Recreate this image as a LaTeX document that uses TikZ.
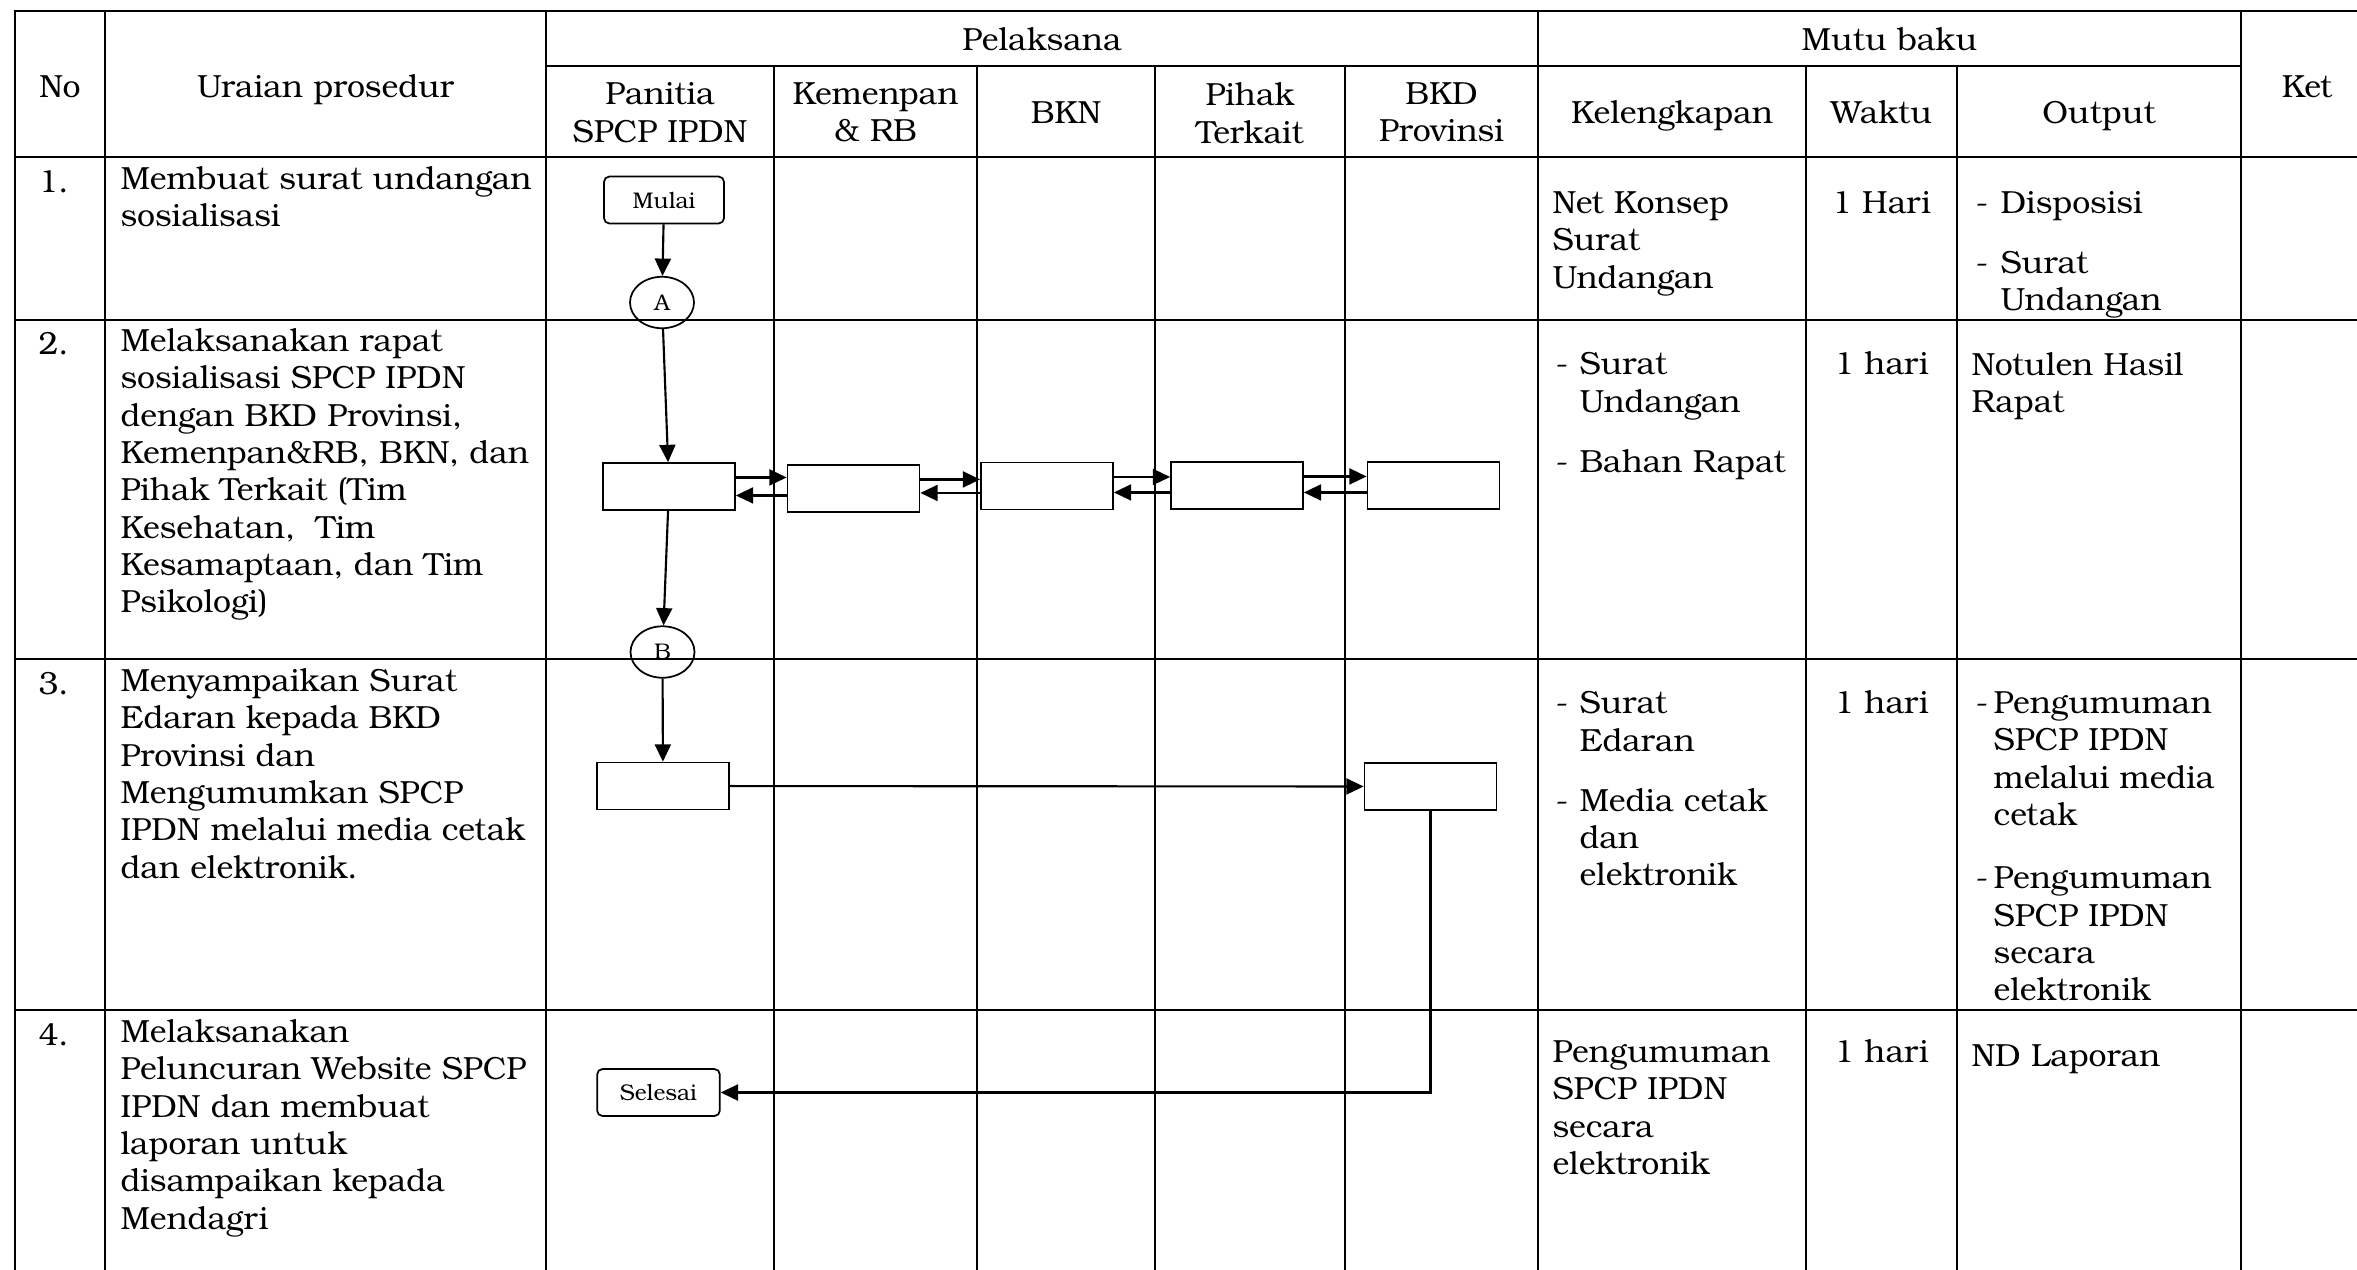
\documentclass[tikz,border=0pt]{standalone}
\usepackage{fontspec}
\setmainfont{TeX Gyre Bonum}
\usepackage{tikz}
\usetikzlibrary{positioning,calc,arrows.meta,shapes.geometric}
\newcommand{\cellfont}{\fontsize{12}{14}\selectfont}
\newcommand{\chartfont}{\fontsize{8.5}{10}\selectfont}
\newcommand{\itm}[1]{\makebox[#1][l]{-}}
\newcommand{\indt}[1]{\hspace*{#1}}

\begin{document}
\begin{tikzpicture}[x=0.375pt, y=-0.375pt,
  grid/.style={line width=0.8pt, line cap=rect},
  proc/.style={draw, line width=0.65pt, minimum width=49.5pt, minimum height=17.6pt, inner sep=0pt},
  term/.style={proc, rounded corners=2pt, minimum width=45pt, font=\chartfont},
  conn/.style={draw, ellipse, line width=0.65pt, minimum width=24pt, minimum height=19.3pt, inner sep=0pt, font=\chartfont},
  arr/.style={line width=0.8pt, -{Triangle[length=6.5pt,width=6pt]}},
  txt/.style={anchor=north west, align=left, inner sep=0pt, yshift=-1.5pt, font=\cellfont, execute at begin node=\strut},
  hd/.style={anchor=base, inner sep=0pt, font=\cellfont},
  hdtwo/.style={anchor=north, align=center, inner sep=0pt, yshift=-1.2pt, font=\cellfont, execute at begin node=\strut}]
  \useasboundingbox (0,0) rectangle (2357,1269);
  % table
  \foreach \y in {11,157,320,659,1010} \draw[grid] (15,\y) -- (2400,\y);
  \draw[grid] (546,66) -- (2241,66);
  \foreach \x in {15,105,546,1538,2241} \draw[grid] (\x,11) -- (\x,1300);
  \foreach \x in {774,977,1155,1345,1806,1957} \draw[grid] (\x,66) -- (\x,1300);
  % header
  \node[hd] (hno) at (60,97) {No};
  \node[hd] (hur) at (325.5,97) {Uraian prosedur};
  \node[hd] (hpel) at (1042,50) {Pelaksana};
  \node[hd] (hmutu) at (1889.5,50) {Mutu baku};
  \node[hd] (hket) at (2307,97) {Ket};
  \node[hdtwo] (hpan) at (660,79) {Panitia\\SPCP IPDN};
  \node[hdtwo] (hkem) at (875.5,79) {Kemenpan\\\& RB};
  \node[hd] (hbkn) at (1066,123) {BKN};
  \node[hdtwo] (hpih) at (1250,79) {Pihak\\Terkait};
  \node[hdtwo] (hbkd) at (1441.5,79) {BKD\\Provinsi};
  \node[hd] (hkel) at (1672,123) {Kelengkapan};
  \node[hd] (hwak) at (1881.5,123) {Waktu};
  \node[hd] (hout) at (2099,123) {Output};
  % no + uraian
  \node[txt] (no1) at (38,162) {1.};
  \node[txt] (no2) at (38,324) {2.};
  \node[txt] (no3) at (38,664) {3.};
  \node[txt] (no4) at (38,1015) {4.};
  \node[txt] (ur1) at (120,162) {Membuat surat undangan\\sosialisasi};
  \node[txt] (ur2) at (120,324) {Melaksanakan rapat\\sosialisasi SPCP IPDN\\dengan BKD Provinsi,\\Kemenpan\&RB, BKN, dan\\Pihak Terkait (Tim\\Kesehatan,\ \ Tim\\Kesamaptaan, dan Tim\\Psikologi)};
  \node[txt] (ur3) at (120,664) {Menyampaikan Surat\\Edaran kepada BKD\\Provinsi dan\\Mengumumkan SPCP\\IPDN melalui media cetak\\dan elektronik.};
  \node[txt] (ur4) at (120,1015) {Melaksanakan\\Peluncuran Website SPCP\\IPDN dan membuat\\laporan untuk\\disampaikan kepada\\Mendagri};
  % kelengkapan
  \node[txt] (kel1) at (1552,187) {Net Konsep\\Surat\\Undangan};
  \node[txt] (kel2) at (1555,348) {\itm{9pt}Surat\\\indt{9pt}Undangan\\[8.6pt]\itm{9pt}Bahan Rapat};
  \node[txt] (kel3) at (1555,687) {\itm{9pt}Surat\\\indt{9pt}Edaran\\[8.5pt]\itm{9pt}Media cetak\\\indt{9pt}dan\\\indt{9pt}elektronik};
  \node[txt] (kel4) at (1552,1036) {Pengumuman\\SPCP IPDN\\secara\\elektronik};
  % waktu
  \node[hd] (wak1) at (1881.5,213) {1 Hari};
  \node[hd] (wak2) at (1881.5,374) {1 hari};
  \node[hd] (wak3) at (1881.5,713) {1 hari};
  \node[hd] (wak4) at (1881.5,1062) {1 hari};
  % output
  \node[txt] (out1) at (1975,187) {\itm{9.4pt}Disposisi\\[8.5pt]\itm{9.4pt}Surat\\\indt{9.4pt}Undangan};
  \node[txt] (out2) at (1971,348) {Notulen Hasil\\Rapat};
  \node[txt] (out3) at (1975,687) {\itm{6.8pt}Pengumuman\\\indt{6.8pt}SPCP IPDN\\\indt{6.8pt}melalui media\\\indt{6.8pt}cetak\\[9.8pt]\itm{6.8pt}Pengumuman\\\indt{6.8pt}SPCP IPDN\\\indt{6.8pt}secara\\\indt{6.8pt}elektronik};
  \node[txt] (out4) at (1971,1036) {ND Laporan};
  % flow
  \node[term] (mulai) at (664,200) {Mulai};
  \node[conn] (a) at (662,302.5) {A};
  \node[proc] (b1) at (669,486.5) {};
  \node[proc] (b2) at (853.5,488.5) {};
  \node[proc] (b3) at (1047,486) {};
  \node[proc] (b4) at (1237,485.5) {};
  \node[proc] (b5) at (1433.5,485.5) {};
  \node[conn] (b) at (662.5,652) {B};
  \node[proc] (b6) at (663,786) {};
  \node[proc] (b7) at (1430.5,786.5) {};
  \node[term, minimum width=46pt] (selesai) at (658.5,1092.5) {Selesai};
  \draw[arr] (mulai) -- (a);
  \draw[arr] (a) -- (b1);
  \draw[arr] (b1) -- (b);
  \draw[arr] (b) -- (b6);
  \foreach \p/\q in {b1/b2,b2/b3,b3/b4,b4/b5}{
    \draw[arr] ([yshift=3.4pt]\p.east) coordinate (r) -- (r -| \q.west);
    \draw[arr] ([yshift=-2.6pt]\q.west) coordinate (l) -- (l -| \p.east);
  }
  \draw[arr] (b6) -- (b7);
  \draw[arr] (b7.south) |- (selesai.east);
\end{tikzpicture}
\end{document}
